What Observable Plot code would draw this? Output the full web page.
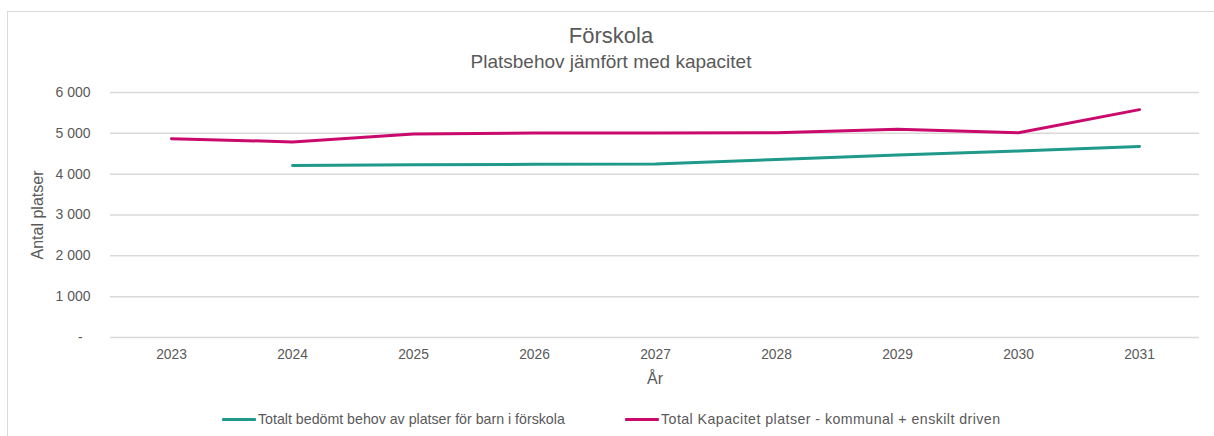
<!DOCTYPE html>
<html><head><meta charset="utf-8">
<script src="https://cdn.jsdelivr.net/npm/d3@7"></script>
<script src="https://cdn.jsdelivr.net/npm/@observablehq/plot@0.6"></script>
<style>
body{margin:0;background:#fff;font-family:"Liberation Sans",Arial,sans-serif;}
#wrap{position:relative;width:1214px;height:436px;overflow:hidden;background:#fff;}
#border{position:absolute;left:7px;top:11px;width:1230px;height:460px;border:1px solid #d9d9d9;box-sizing:border-box;}
.t{position:absolute;left:4px;width:1214px;text-align:center;color:#595959;white-space:nowrap;}
#title{top:25px;font-size:22px;line-height:22px;}
#subtitle{top:52px;font-size:19px;line-height:19px;}
#chart{position:absolute;left:0;top:72px;}
.leg{position:absolute;top:411px;display:flex;align-items:center;color:#595959;font-size:14.2px;line-height:16px;white-space:nowrap;}
.sw{display:inline-block;width:34px;height:3px;margin-right:2px;border-radius:1px;}
#leg2 .lt{letter-spacing:0.45px;}
</style>
</head><body>
<div id="wrap">
  <div id="border"></div>
  <div class="t" id="title">Förskola</div>
  <div class="t" id="subtitle">Platsbehov jämfört med kapacitet</div>
  <div id="chart"></div>
  <div class="leg" id="leg1" style="left:222px"><span class="sw"></span><span class="lt"></span></div>
  <div class="leg" id="leg2" style="left:625px"><span class="sw"></span><span class="lt"></span></div>
</div>
<script>
const years = ["2023","2024","2025","2026","2027","2028","2029","2030","2031"];
const behov = [null, 4210, 4230, 4240, 4250, 4360, 4470, 4565, 4680];
const kapacitet = [4870, 4790, 4985, 5010, 5010, 5015, 5100, 5015, 5580];
const seriesNames = ["Totalt bedömt behov av platser för barn i förskola", "Total Kapacitet platser - kommunal + enskilt driven"];
const seriesColors = ["#1f9a8a", "#c9096c"];
const yTicks = [0, 1000, 2000, 3000, 4000, 5000, 6000];
const yTitle = "Antal platser";
const xTitle = "År";

const data = [];
years.forEach((y, i) => {
  data.push({year: y, value: behov[i], series: seriesNames[0]});
  data.push({year: y, value: kapacitet[i], series: seriesNames[1]});
});

const fmt = d => d === 0 ? "-\u00a0\u00a0" : d3.format(",")(d).replace(/,/g, "\u00a0");

const chart = Plot.plot({
  width: 1214,
  height: 325,
  marginTop: 20,
  marginLeft: 110,
  marginRight: 15,
  marginBottom: 60,
  style: {fontFamily: '"Liberation Sans", Arial, sans-serif', color: "#595959", background: "transparent"},
  x: {type: "point", domain: years, padding: 0.5},
  y: {domain: [0, 6000]},
  color: {domain: seriesNames, range: seriesColors},
  marks: [
    Plot.ruleY(yTicks, {stroke: "#d9d9d9", strokeWidth: 1.5}),
    Plot.axisY({ticks: yTicks, tickSize: 0, tickPadding: 20, tickFormat: fmt, fontSize: 14, label: null}),
    Plot.axisY({ticks: [], fontSize: 16, label: yTitle, labelAnchor: "center", labelOffset: 79, labelArrow: "none"}),
    Plot.axisX({tickSize: 0, tickPadding: 12, fontSize: 13.8, label: null}),
    Plot.axisX({ticks: [], fontSize: 16, label: xTitle, labelAnchor: "center", labelOffset: 46, labelArrow: "none"}),
    Plot.line(data, {x: "year", y: "value", z: "series", stroke: "series", strokeWidth: 3, strokeLinecap: "round", strokeLinejoin: "round"})
  ]
});
document.getElementById("chart").appendChild(chart);

[["leg1", 0], ["leg2", 1]].forEach(([id, i]) => {
  const el = document.getElementById(id);
  el.querySelector(".sw").style.background = seriesColors[i];
  el.querySelector(".lt").textContent = seriesNames[i];
});
</script>
</body></html>
